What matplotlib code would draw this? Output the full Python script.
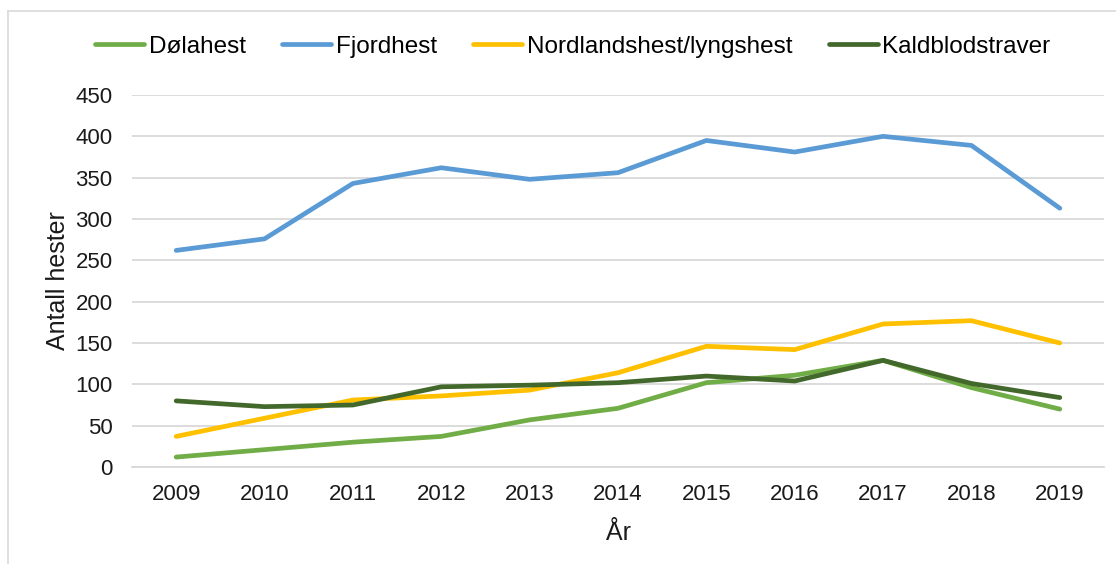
import matplotlib
matplotlib.use("Agg")
import matplotlib.pyplot as plt
from matplotlib.lines import Line2D

years = ["2009", "2010", "2011", "2012", "2013", "2014", "2015", "2016", "2017", "2018", "2019"]
dolahest = [12, 21, 30, 37, 57, 71, 102, 111, 129, 96, 70]
fjordhest = [262, 276, 343, 362, 348, 356, 395, 381, 400, 389, 313]
nordlandshest = [37, 59, 81, 86, 93, 114, 146, 142, 173, 177, 150]
kaldblodstraver = [80, 73, 75, 97, 99, 102, 110, 104, 129, 101, 84]

series = [
    ("Dølahest", dolahest, "#70ad47"),
    ("Fjordhest", fjordhest, "#5b9bd5"),
    ("Nordlandshest/lyngshest", nordlandshest, "#ffc000"),
    ("Kaldblodstraver", kaldblodstraver, "#43682b"),
]

plt.rcParams["font.family"] = ["Liberation Sans", "DejaVu Sans"]

fig = plt.figure(figsize=(11.16, 5.64), dpi=100)
ax = fig.add_axes([132 / 1116, 97 / 564, 972 / 1116, 372 / 564])

x = list(range(len(years)))
for name, vals, col in series:
    ax.plot(x, vals, color=col, linewidth=3.4, label=name, solid_capstyle="round", solid_joinstyle="round")

ax.set_xlim(-0.5, len(years) - 0.5)
ax.set_ylim(0, 450)
ax.set_yticks(range(0, 451, 50))
ax.set_xticks(x)
ax.set_xticklabels(years)
ax.tick_params(axis="both", length=0, labelsize=16, colors="#1a1a1a")
ax.tick_params(axis="x", pad=12)
ax.tick_params(axis="y", pad=14)
ax.grid(axis="y", color="#d9d9d9", linewidth=1.3)
ax.set_axisbelow(True)
for s in ax.spines.values():
    s.set_visible(False)
ax.spines["bottom"].set_visible(True)
ax.spines["bottom"].set_color("#d9d9d9")
ax.spines["bottom"].set_linewidth(1.3)

ax.set_xlabel("År", fontsize=18, labelpad=12, color="#1a1a1a")
ax.set_ylabel("Antall hester", fontsize=18, labelpad=4, color="#1a1a1a")

fig.legend(loc="center", bbox_to_anchor=(573 / 1116, 1 - 47 / 564), ncol=4, frameon=False,
           fontsize=17.5, handlelength=2.0, handletextpad=0.2, columnspacing=1.5)

# chart border (top and left visible)
fig.add_artist(Line2D([8 / 1116, 8 / 1116], [0, 1 - 11 / 564], color="#d9d9d9", linewidth=1.2))
fig.add_artist(Line2D([8 / 1116, 1], [1 - 11 / 564, 1 - 11 / 564], color="#d9d9d9", linewidth=1.2))

fig.savefig("out.png", dpi=100)
